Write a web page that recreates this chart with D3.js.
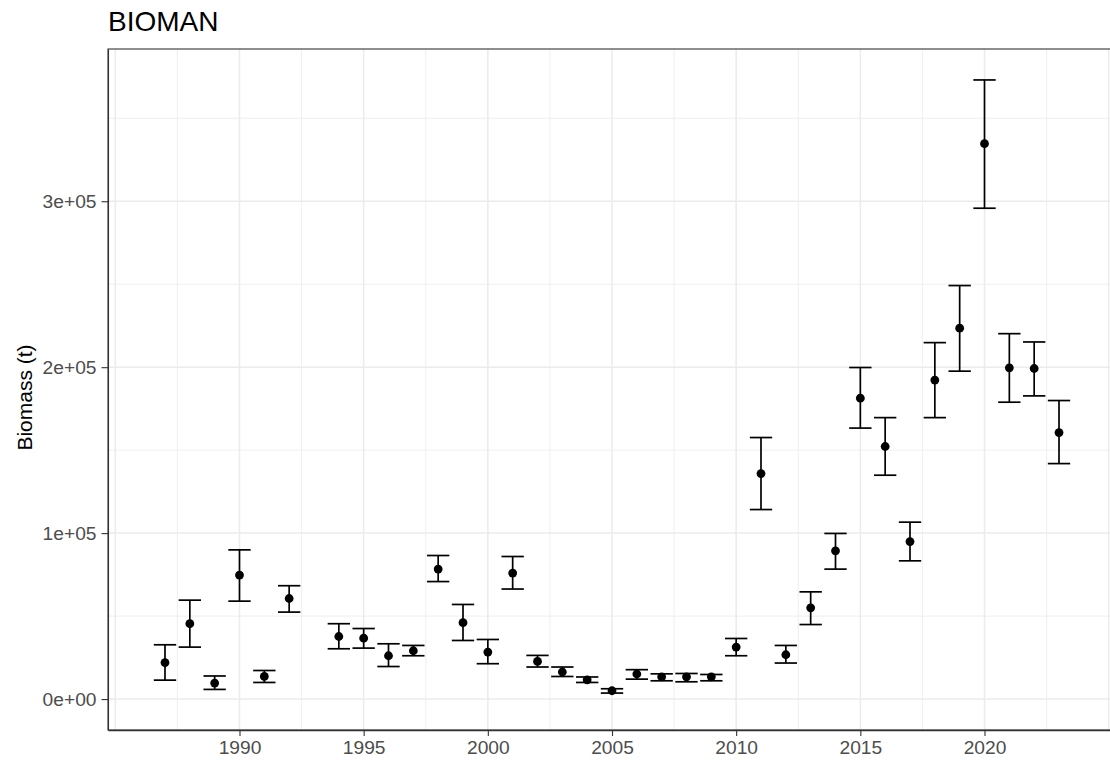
<!DOCTYPE html>
<html>
<head>
<meta charset="utf-8">
<script src="https://cdn.jsdelivr.net/npm/d3@7"></script>
<style>
  html, body { margin: 0; padding: 0; background: #ffffff; }
  svg { display: block; font-family: "Liberation Sans", Arial, sans-serif; }
</style>
</head>
<body>
<svg id="chart" width="1110" height="767"></svg>
<script>
// Survey years and biomass estimates (tonnes) with confidence limits
const years = [1987, 1988, 1989, 1990, 1991, 1992, 1994, 1995, 1996, 1997, 1998, 1999,
  2000, 2001, 2002, 2003, 2004, 2005, 2006, 2007, 2008, 2009, 2010, 2011, 2012, 2013,
  2014, 2015, 2016, 2017, 2018, 2019, 2020, 2021, 2022, 2023];
const biomass = [22000, 45400, 9600, 74700, 13600, 60600, 37700, 36700, 26100, 29100, 78300, 46000,
  28300, 75900, 22700, 16300, 11600, 5000, 15100, 13400, 13400, 13400, 31300, 135900, 26700, 55000,
  89300, 181300, 152200, 94900, 192200, 223500, 334700, 199600, 199200, 160600];
const lower = [11400, 31300, 5800, 59000, 10000, 52400, 30300, 30700, 19600, 26100, 70800, 35300,
  21300, 66300, 19300, 13600, 10000, 3600, 12000, 11000, 10400, 11000, 26100, 114200, 21700, 44900,
  78300, 163300, 134900, 83300, 169600, 197600, 295800, 178900, 182700, 141900];
const upper = [32700, 59600, 13900, 89900, 17200, 68300, 45400, 42500, 33300, 32300, 86500, 57000,
  35900, 85900, 26300, 19300, 13300, 6200, 17700, 15200, 15400, 14800, 36500, 157600, 32300, 64600,
  99800, 199800, 169600, 106600, 214800, 249200, 373100, 220200, 215200, 179900];

// Axis breaks and labels
const xTicks = [1990, 1995, 2000, 2005, 2010, 2015, 2020];
const xTickLabels = ["1990", "1995", "2000", "2005", "2010", "2015", "2020"];
const xMajorGrid = [1985, 1990, 1995, 2000, 2005, 2010, 2015, 2020, 2025];
const xMinorGrid = [1987.5, 1992.5, 1997.5, 2002.5, 2007.5, 2012.5, 2017.5, 2022.5];
const yTicks = [0, 100000, 200000, 300000];
const yTickLabels = ["0e+00", "1e+05", "2e+05", "3e+05"];
const yMinorGrid = [50000, 150000, 250000, 350000];

const title = "BIOMAN";
const yTitle = "Biomass (t)";

const data = years.map((y, i) => ({ year: y, value: biomass[i], lo: lower[i], hi: upper[i] }));

const svg = d3.select("#chart");
const panel = { left: 108, top: 49, right: 1116, bottom: 730 };
const capHalf = 0.45; // half-width of the error bar caps, in years

// Continuous scales with 5% padding on each side of the data range
function padded(lo, hi) {
  const r = hi - lo;
  return [lo - 0.05 * r, hi + 0.05 * r];
}
const xExt = [d3.min(years) - capHalf, d3.max(years) + capHalf];
const x = d3.scaleLinear().domain(padded(xExt[0], xExt[1])).range([panel.left, panel.right]);
const y = d3.scaleLinear().domain(padded(Math.min(0, d3.min(lower)), d3.max(upper)))
  .range([panel.bottom, panel.top]);

// Panel background
svg.append("rect")
  .attr("x", panel.left).attr("y", panel.top)
  .attr("width", panel.right - panel.left).attr("height", panel.bottom - panel.top)
  .attr("fill", "#ffffff");

const grid = svg.append("g");
// Minor gridlines
grid.selectAll(".vminor").data(xMinorGrid).join("line")
  .attr("x1", d => x(d)).attr("x2", d => x(d))
  .attr("y1", panel.top).attr("y2", panel.bottom)
  .attr("stroke", "#ebebeb").attr("stroke-width", 0.8);
grid.selectAll(".hminor").data(yMinorGrid).join("line")
  .attr("y1", d => y(d)).attr("y2", d => y(d))
  .attr("x1", panel.left).attr("x2", panel.right)
  .attr("stroke", "#ebebeb").attr("stroke-width", 0.8);
// Major gridlines
grid.selectAll(".vmajor").data(xMajorGrid).join("line")
  .attr("x1", d => x(d)).attr("x2", d => x(d))
  .attr("y1", panel.top).attr("y2", panel.bottom)
  .attr("stroke", "#ebebeb").attr("stroke-width", 1.5);
grid.selectAll(".hmajor").data(yTicks).join("line")
  .attr("y1", d => y(d)).attr("y2", d => y(d))
  .attr("x1", panel.left).attr("x2", panel.right)
  .attr("stroke", "#ebebeb").attr("stroke-width", 1.5);

// Error bars
const bars = svg.append("g").attr("stroke", "#000000").attr("stroke-width", 1.7).attr("fill", "none");
bars.selectAll(".stem").data(data).join("line")
  .attr("x1", d => x(d.year)).attr("x2", d => x(d.year))
  .attr("y1", d => y(d.lo)).attr("y2", d => y(d.hi));
bars.selectAll(".capHi").data(data).join("line")
  .attr("x1", d => x(d.year - capHalf)).attr("x2", d => x(d.year + capHalf))
  .attr("y1", d => y(d.hi)).attr("y2", d => y(d.hi));
bars.selectAll(".capLo").data(data).join("line")
  .attr("x1", d => x(d.year - capHalf)).attr("x2", d => x(d.year + capHalf))
  .attr("y1", d => y(d.lo)).attr("y2", d => y(d.lo));

// Point estimates
svg.append("g").selectAll("circle").data(data).join("circle")
  .attr("cx", d => x(d.year)).attr("cy", d => y(d.value))
  .attr("r", 4.4).attr("fill", "#000000");

// Panel border
svg.append("rect")
  .attr("x", panel.left).attr("y", panel.top)
  .attr("width", panel.right - panel.left).attr("height", panel.bottom - panel.top)
  .attr("fill", "none").attr("stroke", "#333333").attr("stroke-width", 1.1);

// Axes
const xAxis = d3.axisBottom(x).tickValues(xTicks)
  .tickFormat((d, i) => xTickLabels[i]).tickSize(6).tickSizeOuter(0).tickPadding(4);
const gx = svg.append("g").attr("transform", `translate(0,${panel.bottom})`).call(xAxis);
gx.select(".domain").attr("stroke", "#333333").attr("stroke-width", 1.6);
gx.selectAll(".tick line").attr("stroke", "#333333").attr("stroke-width", 1.1);
gx.selectAll(".tick text").attr("fill", "#4d4d4d").style("font-size", "19.2px")
  .style("font-family", "'Liberation Sans', Arial, sans-serif");

const yAxis = d3.axisLeft(y).tickValues(yTicks)
  .tickFormat((d, i) => yTickLabels[i]).tickSize(6.5).tickSizeOuter(0).tickPadding(5);
const gy = svg.append("g").attr("transform", `translate(${panel.left},0)`).call(yAxis);
gy.select(".domain").attr("stroke", "#333333").attr("stroke-width", 1.1);
gy.selectAll(".tick line").attr("stroke", "#333333").attr("stroke-width", 1.1);
gy.selectAll(".tick text").attr("fill", "#4d4d4d").style("font-size", "19.2px")
  .style("font-family", "'Liberation Sans', Arial, sans-serif");

// Titles
svg.append("text")
  .attr("x", 108).attr("y", 31)
  .attr("fill", "#000000").style("font-size", "28px")
  .text(title);

svg.append("text")
  .attr("transform", `translate(32,${(panel.top + panel.bottom) / 2 + 8}) rotate(-90)`)
  .attr("text-anchor", "middle")
  .attr("fill", "#000000").style("font-size", "21px")
  .text(yTitle);
</script>
</body>
</html>
